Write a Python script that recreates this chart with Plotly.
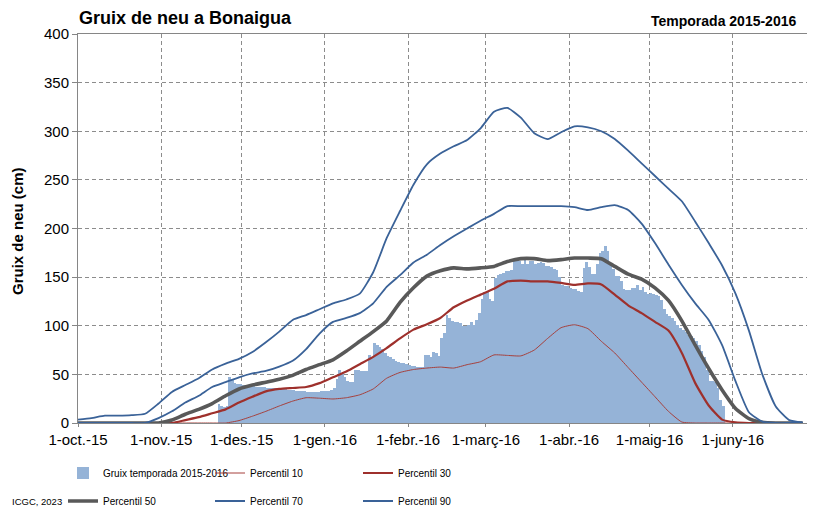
import pandas as pd
import plotly.graph_objects as go

# snow depth of the 2015-2016 season, one value per day from 22 Nov 2015 (cm)
gruix_start = "2015-11-22"
gruix = [
    20, 17, 16, 17, 47, 44, 41, 40, 40,
    39, 39, 38, 38, 38, 37, 37, 37, 37, 36, 36, 36, 36, 35, 35, 35, 35, 34, 34, 34,
    33, 33, 33, 33, 32, 32, 32, 32, 32, 33, 33,
    33, 33, 34, 36, 45, 55, 50, 47, 43, 42, 42, 55, 54, 53, 53, 53, 70, 67, 82, 80,
    78, 76, 72, 69, 68, 66, 64, 63, 62, 62, 61,
    60, 59, 59, 58, 58, 58, 70, 70, 68, 73, 72, 69, 87, 93, 111, 108, 105, 104, 104,
    103, 100, 100, 101, 104, 101, 106, 113, 128, 135,
    135, 128, 125, 149, 152, 153, 154, 156, 156, 157, 168, 167, 167, 163, 168, 163,
    167, 167, 163, 165, 166, 165, 161, 161, 160, 158, 157, 150, 142, 141, 141,
    139, 138, 138, 136, 135, 159, 166, 160, 153, 153, 163, 175, 177, 182, 177, 165,
    158, 151, 151, 146, 138, 137, 137, 139, 139, 142, 137, 140, 135, 133,
    134, 133, 132, 131, 126, 117, 112, 110, 108, 105, 101, 98, 96, 94, 90, 89, 87,
    84, 80, 74, 68, 55, 43, 43, 42, 36, 24, 18,
]

# percentiles, one value every 5 days from 1 Oct 2015 (cm)
perc_start = "2015-10-01"
p10 = [0, 0, 0, 0, 0, 0, 0, 0, 0, 0, 0, 0, 2.5, 7, 12, 17.5, 22.5, 26, 25.5, 24.7,
       26, 29, 35, 46, 52, 55, 56.5, 57.5, 56.5, 60, 63, 70, 69.5, 69, 75, 87, 98,
       101, 97, 84, 72, 57, 42, 27, 12, 1, 0, 0, 0, 0, 0, 0, 0, 0, 0]
p30 = [0, 0, 0, 0, 0, 0, 0, 0, 3, 6, 10, 14, 21, 27, 32.5, 35, 36, 37, 41, 47, 53,
       60.5, 68, 77, 87, 96, 101.5, 108, 119, 126, 132, 138, 145.6, 146.4, 145.6,
       145.6, 144, 142, 143.5, 142.5, 132, 121, 113, 104, 95, 72, 41, 18, 3.5, 0.7,
       0, 0, 0, 0, 0]
p50 = [0, 0, 0, 0, 0, 0, 0, 3, 9, 14, 20, 28, 35, 39, 42, 45, 49, 55, 60, 65, 74,
       84, 94, 105, 124, 139, 151, 156.5, 159.5, 158.5, 159.5, 161, 166, 169, 169,
       167, 168, 169.6, 169.6, 169, 161, 153, 148, 139, 126, 105, 80, 56, 34, 15,
       4.5, 0.8, 0, 0, 0]
p70 = [0, 0, 0, 0, 0, 0, 5, 12, 21, 28, 37, 42, 47, 51, 53.5, 58, 64, 76, 92, 104,
       108, 113, 123, 140, 152, 165, 173, 183, 192, 200, 208, 215, 223, 223, 223,
       223, 223, 222, 219, 222, 224, 219, 205, 185, 163, 142, 123, 106, 80, 43, 11,
       1.5, 0, 0, 0]
p90 = [3.5, 5, 7.5, 7.5, 8, 9.5, 20, 32, 39, 46, 55, 61, 66, 73, 83, 94, 106, 111,
       117, 123, 127, 133, 155, 190, 218, 245, 266, 277, 284.5, 291, 303, 320, 324,
       314, 298, 292, 299, 305, 304, 300, 292, 280, 267, 254, 241, 228, 207, 185,
       162, 133, 95, 50, 17, 3, 0.5]

tick_dates = ["2015-10-01", "2015-11-01", "2015-12-01", "2016-01-01", "2016-02-01",
              "2016-03-01", "2016-04-01", "2016-05-01", "2016-06-01"]
tick_labels = ["1-oct.-15", "1-nov.-15", "1-des.-15", "1-gen.-16", "1-febr.-16",
               "1-març-16", "1-abr.-16", "1-maig-16", "1-juny-16"]

ARIAL = "Liberation Sans, Arial, sans-serif"

# the page body adds 8px around the figure, so the figure is 8px smaller
W, H = 807, 517

dies = pd.date_range(gruix_start, periods=len(gruix), freq="D")
dies_p = pd.date_range(perc_start, periods=len(p10), freq="5D")

fig = go.Figure()
fig.add_trace(go.Bar(
    x=dies, y=gruix, name="Gruix temporada 2015-2016",
    marker=dict(color="#95B3D7", line_width=0),
    width=86400000, offset=0, legend="legend", legendgroup="g0"))

# name, values, colour, width, legend column
lines = [
    ("Percentil 10", p10, "#A6403C", 1, "legend2"),
    ("Percentil 30", p30, "#9E302C", 2.2, "legend3"),
    ("Percentil 50", p50, "#595959", 3.6, "legend"),
    ("Percentil 70", p70, "#3A6298", 1.8, "legend2"),
    ("Percentil 90", p90, "#3A6298", 1.8, "legend3"),
]
for i, (name, vals, color, w, leg) in enumerate(lines):
    fig.add_trace(go.Scatter(
        x=dies_p, y=vals, name=name, mode="lines",
        line=dict(color=color, width=w, shape="spline", smoothing=0.5),
        legend=leg, legendgroup="g%d" % (i + 1)))


def columna(x_px):
    return dict(
        orientation="v", xref="container", yref="container", x=(x_px - 8) / W,
        y=1 - (487 - 8) / H, xanchor="left", yanchor="middle",
        itemwidth=30, font=dict(family=ARIAL, size=10, color="#000000"),
        bgcolor="rgba(0,0,0,0)", traceorder="grouped", tracegroupgap=9,
    )


fig.update_layout(
    width=W, height=H,
    margin=dict(l=70, r=3, t=26, b=102, autoexpand=False),
    plot_bgcolor="white", paper_bgcolor="white",
    bargap=0,
    font=dict(family=ARIAL, size=15, color="#000000"),
    legend=columna(63),
    legend2=columna(210),
    legend3=columna(358),
    xaxis=dict(
        type="date", range=["2015-10-01", "2016-06-30 12:00"],
        tickvals=tick_dates, ticktext=tick_labels, automargin=False,
        tickangle=0,
        showgrid=True, gridcolor="#8C8C8C", griddash="4px,3px", gridwidth=1,
        showline=True, linecolor="#868686", linewidth=1, mirror=True,
        ticks="outside", ticklen=3, tickcolor="#868686",
        tickfont=dict(family=ARIAL, size=15), zeroline=False,
    ),
    yaxis=dict(
        range=[0, 400], dtick=50, automargin=False,
        showgrid=True, gridcolor="#8C8C8C", griddash="4px,3px", gridwidth=1,
        showline=True, linecolor="#868686", linewidth=1, mirror=True,
        ticks="outside", ticklen=5, tickcolor="#868686",
        tickfont=dict(family=ARIAL, size=15), zeroline=False,
    ),
    annotations=[
        dict(text="<b>Gruix de neu a Bonaigua</b>", xref="paper", yref="paper",
             x=-0.002, y=(423 - 17.5) / 389, xanchor="left", yanchor="middle",
             showarrow=False, font=dict(family=ARIAL, size=18)),
        dict(text="<b>Temporada 2015-2016</b>", xref="paper", yref="paper",
             x=(798 - 78) / 734, y=(423 - 21) / 389, xanchor="right",
             yanchor="middle", showarrow=False, font=dict(family=ARIAL, size=14)),
        dict(text="<b>Gruix de neu (cm)</b>", xref="paper", yref="paper",
             x=(17 - 78) / 734, y=(423 - 231) / 389, textangle=-90,
             xanchor="center", yanchor="middle", showarrow=False,
             font=dict(family=ARIAL, size=15)),
        dict(text="ICGC, 2023", xref="paper", yref="paper",
             x=(10 - 78) / 734, y=(423 - 501) / 389, xanchor="left",
             yanchor="middle", showarrow=False, font=dict(family=ARIAL, size=9.5)),
    ],
)

fig.write_html("out.html")
